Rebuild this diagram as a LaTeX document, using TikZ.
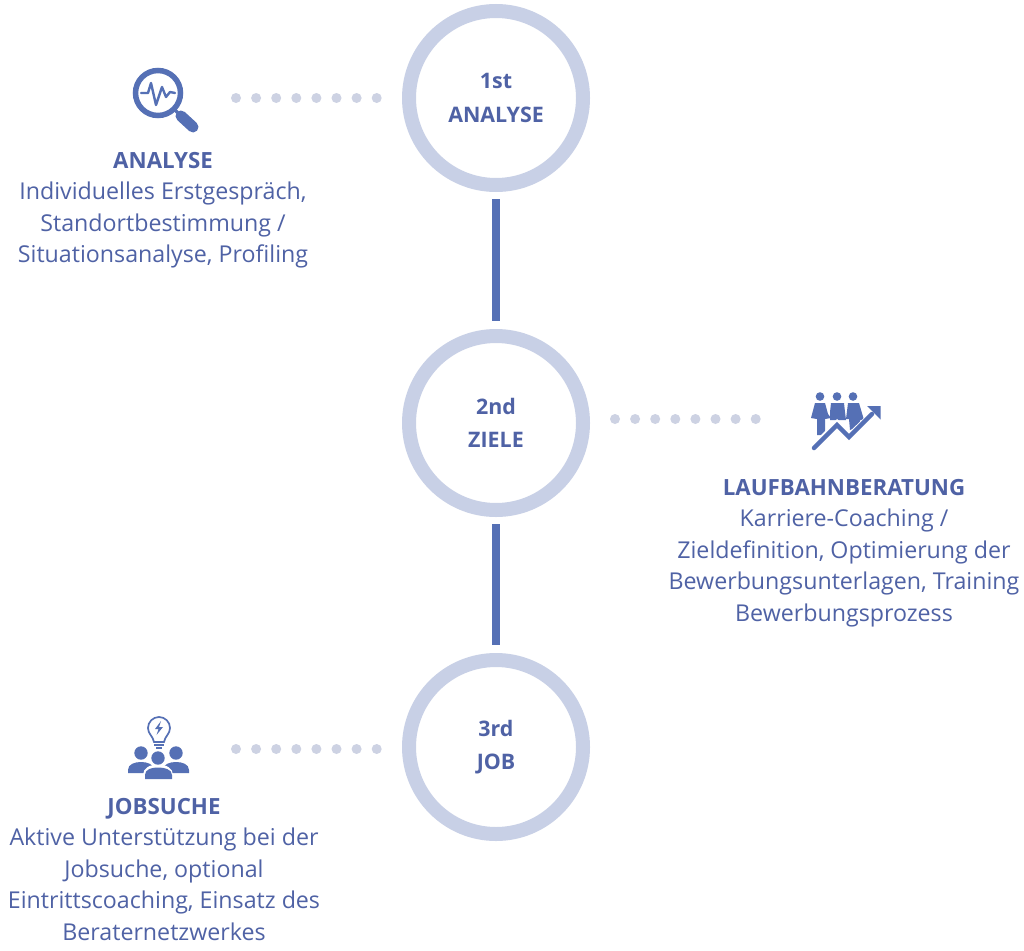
\documentclass[tikz,border=0pt]{standalone}
\usepackage{fontspec}
\setmainfont{Open Sans}
\usetikzlibrary{shapes,arrows,positioning}
\definecolor{stepblue}{HTML}{5570B5}
\definecolor{ringblue}{HTML}{C8D0E6}
\definecolor{dotgrey}{HTML}{CDD2E3}
\definecolor{textblue}{HTML}{4F62A5}
\newcommand{\headtext}[1]{{\fontsize{22.3}{31.5}\selectfont\bfseries #1}}
\tikzset{
  stepring/.style={circle,draw=ringblue,line width=14pt,fill=white,minimum size=174pt,inner sep=0pt,
    text=textblue,font=\fontsize{21.4}{33.5}\selectfont\bfseries,align=center},
  stepbar/.style={draw=stepblue,line width=8pt,shorten >=8pt,shorten <=7pt},
  dotline/.style={draw=dotgrey,line width=10pt,line cap=round,dash pattern=on 0pt off 20.1pt},
  infotext/.style={text=textblue,font=\fontsize{23.2}{31.5}\selectfont,align=center,inner sep=0pt},
  icon/.style={fill=stepblue,draw=none}
}
\begin{document}
\begin{tikzpicture}[x=1pt,y=-1pt]
\useasboundingbox[fill=white] (0,0) rectangle (1024,950);
\node[stepring] (first) at (496,98) {1st\\ANALYSE};
\node[stepring] (second) at (496,423) {2nd\\ZIELE};
\node[stepring] (third) at (496,747) {3rd\\JOB};
\path[stepbar] (first) -- (second);
\path[stepbar] (second) -- (third);
% dots
\coordinate (d1a) at (236,98); \coordinate (d1b) at (380,98);
\coordinate (d2a) at (615,419); \coordinate (d2b) at (759,419);
\coordinate (d3a) at (236,749); \coordinate (d3b) at (380,749);
\path[dotline] (d1a) -- (d1b);
\path[dotline] (d2a) -- (d2b);
\path[dotline] (d3a) -- (d3b);
% texts
\node[infotext,anchor=north] (analyse) at (163,152) {\headtext{ANALYSE}\\Individuelles Erstgespräch,\\Standortbestimmung /\\Situationsanalyse, Profiling};
\node[infotext,anchor=north] (lauf) at (844,479) {\headtext{LAUFBAHNBERATUNG}\\Karriere-Coaching /\\Zieldefinition, Optimierung der\\Bewerbungsunterlagen, Training\\Bewerbungsprozess};
\node[infotext,anchor=north] (jobsuche) at (164,798) {\headtext{JOBSUCHE}\\Aktive Unterstützung bei der\\Jobsuche, optional\\Eintrittscoaching, Einsatz des\\Beraternetzwerkes};
% magnifier
\draw[stepblue,line width=5.5pt] (158,93) circle (22.5);
\draw[stepblue,line width=2.4pt,line join=round,line cap=round] (141,93) -- (148,93) -- (151,83) -- (156,105) -- (162,87) -- (166,97) -- (170,92) -- (175,93);
\draw[stepblue,line width=3.5pt] (174,109) -- (180,115);
\draw[stepblue,line width=11pt,line cap=round] (181,116) -- (193,127);
% people with arrow
\foreach \hx in {820,837,853}{
  \fill[icon] (\hx,396.5) circle (4.3);
}
\fill[icon] (815,403) -- (825,403) -- (828,414) -- (831,418) -- (825,419) -- (825,435) -- (817,435) -- (817,419) -- (811,418) -- cycle;
\fill[icon] (831,403) -- (844,403) -- (845,412) -- (846,420) -- (830,420) -- (830,412) -- cycle;
\fill[icon] (848,403) -- (859,403) -- (864,420) -- (860,420) -- (860,426) -- (850,430) -- (849,419) -- (846,419) -- cycle;
\draw[white,line width=7pt] (813,448) -- (837,424) -- (849,437) -- (872,415);
\draw[stepblue,line width=4.5pt,line cap=round] (814,448) -- (837,425) -- (849,437) -- (872,414);
\fill[icon] (880.5,406) -- (880.5,419.5) -- (867,406) -- cycle;
% team with bulb
\draw[stepblue,line width=1.7pt] (154,742) .. controls (153,736) and (148,734) .. (148,728) arc (180:360:11) .. controls (170,734) and (165,736) .. (164,742) -- cycle;
\fill[icon] (161,721) -- (155,729) -- (158.5,729) -- (156.5,735) -- (163,727) -- (159,727) -- cycle;
\draw[stepblue,line width=1.5pt] (154,745) -- (164,745) (156,748) -- (162,748);
\foreach \hx/\hy in {141/753, 176/753}{
  \fill[icon] (\hx,\hy) circle (6.7);
  \fill[icon] (\hx-13,\hy+20) -- (\hx-13,\hy+17) .. controls (\hx-13,\hy+11) and (\hx-6,\hy+9) .. (\hx,\hy+9) .. controls (\hx+6,\hy+9) and (\hx+13,\hy+11) .. (\hx+13,\hy+17) -- (\hx+13,\hy+20) -- cycle;
}
\fill[white] (158,758) circle (8.5);
\fill[white] (143,780) -- (143,775) .. controls (143,768) and (150,764.5) .. (158,764.5) .. controls (166,764.5) and (173,768) .. (173,775) -- (173,780) -- cycle;
\fill[icon] (158,758) circle (6.7);
\fill[icon] (145,779) -- (145,775) .. controls (145,769) and (152,767.5) .. (158,767.5) .. controls (164,767.5) and (172,769) .. (172,775) -- (172,779) -- cycle;
\end{tikzpicture}
\end{document}
